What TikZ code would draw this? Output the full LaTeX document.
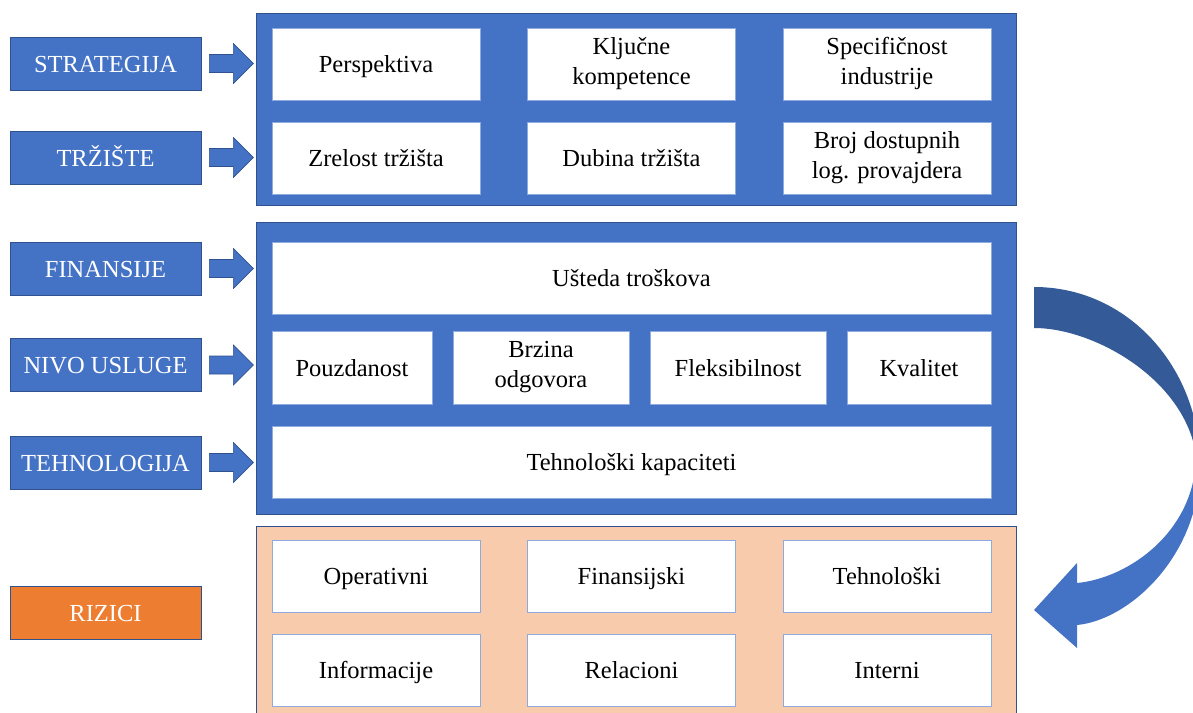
\documentclass[tikz,border=0pt]{standalone}
\usepackage{fontspec}
\setmainfont{Liberation Serif}
\definecolor{myblue}{HTML}{4472C4}
\definecolor{myblueedge}{HTML}{2F528F}
\definecolor{mydark}{HTML}{345B97}
\definecolor{boxedge}{HTML}{8FAADC}
\definecolor{myorange}{HTML}{ED7D31}
\definecolor{mypeach}{HTML}{F8CBAD}
\newcommand\mytopstrut{\rule{0pt}{24.5pt}}
\newcommand\mybotstrut{\rule[-7pt]{0pt}{7pt}}
\begin{document}
\begin{tikzpicture}[x=1pt,y=-1pt,
  panel/.style={draw=myblueedge,line width=0.8pt,fill=myblue,inner sep=0pt},
  box/.style={draw=boxedge,line width=0.8pt,fill=white,inner sep=0pt,align=center,
    minimum height=72pt,font=\fontsize{24.5}{30}\selectfont,text=black,
    execute at begin node=\mytopstrut,execute at end node=\mybotstrut},
  lab/.style={draw=myblueedge,line width=0.8pt,fill=myblue,inner sep=0pt,align=center,
    minimum width=191pt,minimum height=53pt,font=\fontsize{24.5}{28}\selectfont,text=white,
    execute at begin node=\mytopstrut,execute at end node=\mybotstrut},
  blockarrow/.style={fill=myblue,draw=myblueedge,line width=0.6pt}]
\useasboundingbox (0,0) rectangle (1193,712);
\begin{scope}
\clip (0,0) rectangle (1193,712);
% panels
\node[panel,minimum width=760pt,minimum height=192pt] (top) at (636,109) {};
\node[panel,minimum width=760pt,minimum height=292pt] (mid) at (636,368) {};
\node[panel,fill=mypeach,minimum width=760pt,minimum height=200pt] (bot) at (636,626) {};
% top boxes
\node[box,minimum width=208pt] (persp) at (376,64) {Perspektiva};
\node[box,minimum width=208pt] (klj) at (631.5,64) {Ključne\\kompetence};
\node[box,minimum width=208pt] (spec) at (887,64) {Specifičnost\\industrije};
\node[box,minimum width=208pt] (zrel) at (376,158) {Zrelost tržišta};
\node[box,minimum width=208pt] (dub) at (631.5,158) {Dubina tržišta};
\node[box,minimum width=208pt] (broj) at (887,158) {Broj dostupnih\\log. provajdera};
% middle boxes
\node[box,minimum width=719pt] (ust) at (631.5,278) {Ušteda troškova};
\node[box,minimum width=160pt,minimum height=73pt] (pouz) at (352,367.5) {Pouzdanost};
\node[box,minimum width=176pt,minimum height=73pt] (brz) at (541,367.5) {Brzina\\odgovora};
\node[box,minimum width=176pt,minimum height=73pt] (flex) at (738,367.5) {Fleksibilnost};
\node[box,minimum width=144pt,minimum height=73pt] (kval) at (919,367.5) {Kvalitet};
\node[box,minimum width=719pt] (teh) at (631.5,462) {Tehnološki kapaciteti};
% bottom boxes
\node[box,minimum width=208pt] (oper) at (376,576) {Operativni};
\node[box,minimum width=208pt] (fin) at (631.5,576) {Finansijski};
\node[box,minimum width=208pt] (tehr) at (887,576) {Tehnološki};
\node[box,minimum width=208pt] (inf) at (376,670) {Informacije};
\node[box,minimum width=208pt] (rel) at (631.5,670) {Relacioni};
\node[box,minimum width=208pt] (int) at (887,670) {Interni};
% labels
\node[lab] (l1) at (105.5,63.5) {STRATEGIJA};
\node[lab] (l2) at (105.5,157.5) {TRŽIŠTE};
\node[lab] (l3) at (105.5,268.5) {FINANSIJE};
\node[lab] (l4) at (105.5,365) {NIVO USLUGE};
\node[lab] (l5) at (105.5,462.5) {TEHNOLOGIJA};
\node[lab,fill=myorange] (l6) at (105.5,612.5) {RIZICI};
% block arrows
\foreach \n in {l1,l2,l3,l4,l5}{
  \draw[blockarrow,shift={(\n.east)}] (8,-9) -- (32,-9) -- (32,-20) -- (52,0) -- (32,20) -- (32,9) -- (8,9) -- cycle;
}
% curved arrow
\coordinate (ca1) at (1034,287);
\coordinate (ca2) at (1034,328);
\coordinate (catip) at (1034,610);
\fill[mydark] (ca1) .. controls (1130,287) and (1200,370) .. (1200,465)
  -- (1196,455) .. controls (1185,380) and (1095,328) .. (ca2) -- cycle;
\fill[myblue] (1200,465) .. controls (1200,555) and (1130,620) .. (1077,625)
  -- (1077,648) -- (catip) -- (1077,563) -- (1077,583)
  .. controls (1130,578) and (1196,530) .. (1196,455) -- cycle;
\end{scope}
\end{tikzpicture}
\end{document}
